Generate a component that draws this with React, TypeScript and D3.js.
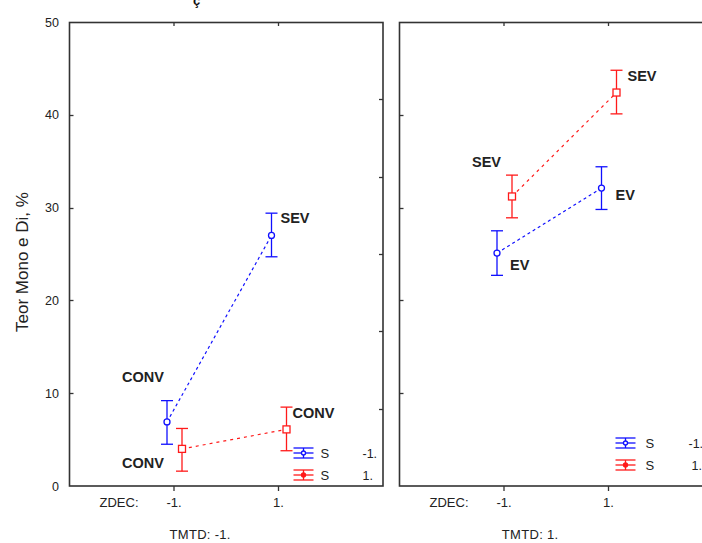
import React from 'react';
import * as d3 from 'd3';

// ZDEC levels on the x axis, one panel per TMTD level
const zdecLevels = [-1, 1];
const panels = ['TMTD: -1.', 'TMTD: 1.'];
const yTicks = [0, 10, 20, 30, 40, 50];

// S = -1 (blue) and S = 1 (red): mean, lower, upper per panel and ZDEC level
const blueMean = [[6.9, 27.0], [25.1, 32.1]];
const blueLow = [[4.5, 24.7], [22.7, 29.8]];
const blueHigh = [[9.2, 29.4], [27.5, 34.4]];
const redMean = [[4.0, 6.1], [31.2, 42.4]];
const redLow = [[1.6, 3.8], [28.9, 40.1]];
const redHigh = [[6.2, 8.5], [33.5, 44.8]];

// point labels [panel][series][level]
const blueLabels = [['CONV', 'SEV'], ['EV', 'EV']];
const redLabels = [['CONV', 'CONV'], ['SEV', 'SEV']];

const BLUE = '#1010ff';
const RED = '#ff1a1a';
const AXIS = '#333';
const FONT = 'Arial, "Liberation Sans", sans-serif';

const width = 702;
const height = 543;
const y = d3.scaleLinear().domain([0, 50]).range([486, 22]);
const panelLeft = [69.5, 399.5];
const panelWidth = 313.5;

const ErrBar: React.FC<{ cx: number; m: number; lo: number; hi: number; color: string; marker: 'circle' | 'square' }> = ({ cx, m, lo, hi, color, marker }) => (
  <g stroke={color} strokeWidth={1.3} fill="none">
    <line x1={cx} x2={cx} y1={y(lo)} y2={y(hi)} />
    <line x1={cx - 6} x2={cx + 6} y1={y(lo)} y2={y(lo)} />
    <line x1={cx - 6} x2={cx + 6} y1={y(hi)} y2={y(hi)} />
    {marker === 'circle'
      ? <circle cx={cx} cy={y(m)} r={3} fill="white" />
      : <rect x={cx - 3.5} y={y(m) - 3.5} width={7} height={7} fill="white" />}
  </g>
);

const LegendSym: React.FC<{ x: number; yc: number; color: string; dot: boolean }> = ({ x, yc, color, dot }) => (
  <g stroke={color} strokeWidth={1.3} fill="none">
    <line x1={x} x2={x + 20} y1={yc - 5} y2={yc - 5} />
    <line x1={x} x2={x + 20} y1={yc} y2={yc} />
    <line x1={x} x2={x + 20} y1={yc + 5} y2={yc + 5} />
    <line x1={x + 10} x2={x + 10} y1={yc - 5} y2={yc + 5} />
    <circle cx={x + 10} cy={yc} r={2} fill={dot ? color : 'white'} />
  </g>
);

// label placement offsets (dx, dy) per panel/series/level
const blueLabelPos = [
  [[-45, -40], [9, -12]],
  [[13, 17], [14, 12]],
];
const redLabelPos = [
  [[-60, 19], [6, -11]],
  [[-40, -29], [11, -12]],
];

export default function App() {
  return (
    <div style={{ position: 'absolute', left: 0, top: 0 }}>
      <svg width={width} height={height} style={{ display: 'block', fontFamily: FONT }}>
        <rect width={width} height={height} fill="white" />
        <text x={193} y={5} fontSize={13} fontWeight="bold" fill="#111">ç</text>
        <text transform="translate(28,262) rotate(-90)" textAnchor="middle" fontSize={17} fill="#222">Teor Mono e Di, %</text>
        {yTicks.map(t => (
          <text key={t} x={59} y={y(t) + 4.5} textAnchor="end" fontSize={12.5} fill="#222">{t}</text>
        ))}
        {panels.map((title, p) => {
          const x0 = panelLeft[p];
          const x = d3.scaleLinear().domain([-3, 3]).range([x0, x0 + panelWidth]);
          const bx = (v: number) => x(v) - 7;
          const rx = (v: number) => x(v) + 8;
          const blueLine = d3.line<number>().x((_, i) => bx(zdecLevels[i])).y(d => y(d))(blueMean[p]) || '';
          const redLine = d3.line<number>().x((_, i) => rx(zdecLevels[i])).y(d => y(d))(redMean[p]) || '';
          const rightTicks = d3.range(1, 6).map(i => 22 + (464 / 6) * i);
          return (
            <g key={title}>
              <rect x={x0} y={22.5} width={panelWidth} height={463.5} fill="none" stroke={AXIS} strokeWidth={1.6} />
              {yTicks.slice(1, -1).map(t => (
                <line key={t} x1={x0} x2={x0 + 4} y1={Math.round(y(t)) + 0.5} y2={Math.round(y(t)) + 0.5} stroke={AXIS} strokeWidth={1.3} />
              ))}
              {rightTicks.map(t => (
                <line key={t} x1={x0 + panelWidth - 4} x2={x0 + panelWidth} y1={Math.round(t) + 0.5} y2={Math.round(t) + 0.5} stroke={AXIS} strokeWidth={1.3} />
              ))}
              {zdecLevels.map(v => (
                <g key={v}>
                  <line x1={x(v)} x2={x(v)} y1={22} y2={26} stroke={AXIS} strokeWidth={1.3} />
                  <line x1={x(v)} x2={x(v)} y1={486} y2={491} stroke={AXIS} strokeWidth={1.3} />
                  <text x={x(v)} y={507} textAnchor="middle" fontSize={13} fill="#222">{v === -1 ? '-1.' : '1.'}</text>
                </g>
              ))}
              <text x={x0 + 30} y={507} fontSize={13} fill="#222">ZDEC:</text>
              <text x={x(-0.5)} y={539} textAnchor="middle" fontSize={13} fill="#222" letterSpacing={0.3}>{title}</text>

              <path d={blueLine} fill="none" stroke={BLUE} strokeWidth={1.2} strokeDasharray="3,3" />
              <path d={redLine} fill="none" stroke={RED} strokeWidth={1.2} strokeDasharray="3,4" />
              {zdecLevels.map((v, i) => (
                <g key={v}>
                  <ErrBar cx={bx(v)} m={blueMean[p][i]} lo={blueLow[p][i]} hi={blueHigh[p][i]} color={BLUE} marker="circle" />
                  <ErrBar cx={rx(v)} m={redMean[p][i]} lo={redLow[p][i]} hi={redHigh[p][i]} color={RED} marker="square" />
                  <text x={bx(v) + blueLabelPos[p][i][0]} y={y(blueMean[p][i]) + blueLabelPos[p][i][1]} fontSize={14.5} fontWeight="bold" fill="#222">{blueLabels[p][i]}</text>
                  <text x={rx(v) + redLabelPos[p][i][0]} y={y(redMean[p][i]) + redLabelPos[p][i][1]} fontSize={14.5} fontWeight="bold" fill="#222">{redLabels[p][i]}</text>
                </g>
              ))}
              <LegendSym x={x(1) + (p === 0 ? 15 : 7)} yc={p === 0 ? 453 : 443} color={BLUE} dot={false} />
              <LegendSym x={x(1) + (p === 0 ? 15 : 7)} yc={p === 0 ? 475 : 465} color={RED} dot />
              <text x={x(1) + (p === 0 ? 42 : 37)} y={p === 0 ? 458 : 448} fontSize={13} fill="#222">S</text>
              <text x={x(1) + (p === 0 ? 42 : 37)} y={p === 0 ? 480 : 470} fontSize={13} fill="#222">S</text>
              <text x={x(1) + (p === 0 ? 84 : 80)} y={p === 0 ? 458 : 448} fontSize={12.5} fill="#222">-1.</text>
              <text x={x(1) + (p === 0 ? 84 : 83)} y={p === 0 ? 480 : 470} fontSize={12.5} fill="#222">1.</text>
            </g>
          );
        })}
      </svg>
    </div>
  );
}
